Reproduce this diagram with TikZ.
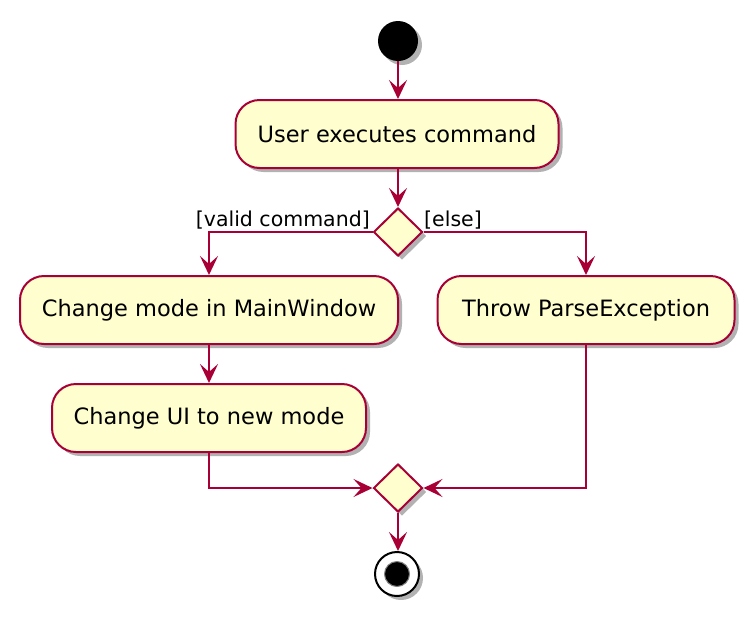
\documentclass[tikz,border=0pt]{standalone}
\usepackage{fontspec}
\setmainfont{DejaVu Sans}
\usetikzlibrary{shapes.geometric,shadows,arrows.meta}
\definecolor{pbord}{HTML}{A80036}
\definecolor{pfill}{HTML}{FEFECE}
\tikzset{
  shad/.style={drop shadow={shadow xshift=4pt,shadow yshift=-4pt,opacity=0.3,fill=black}},
  act/.style={shad,draw=pbord,fill=pfill,line width=2pt,rounded corners=24pt,inner sep=0pt,minimum height=68pt,font=\fontsize{22.5}{27}\selectfont},
  dec/.style={shad,draw=pbord,fill=pfill,line width=2pt,diamond,inner sep=0pt,minimum width=49pt,minimum height=48pt},
  arr/.style={draw=pbord,line width=2pt,-{Stealth[length=19pt,width=18pt,inset=8pt]}},
  lbl/.style={inner sep=0pt,font=\fontsize{20.5}{24}\selectfont},
}
\begin{document}
\begin{tikzpicture}[x=1pt,y=-1pt]
\useasboundingbox (0,0) rectangle (754,616);
\node[shad,circle,fill=black,minimum size=40pt,inner sep=0pt] (start) at (398,41) {};
\node[act,minimum width=323pt] (user) at (397,134) {User executes command};
\node[dec] (d1) at (398,232) {};
\node[act,minimum width=378pt] (cm) at (209,310) {Change mode in MainWindow};
\node[act,minimum width=297pt] (tp) at (586,310) {Throw ParseException};
\node[act,minimum width=314pt] (ui) at (209,418) {Change UI to new mode};
\node[dec] (d2) at (398,488) {};
\node[shad,circle,draw=black,line width=2pt,fill=white,minimum size=44pt,inner sep=0pt] (end) at (397,574) {};
\node[circle,fill=black,draw=gray,line width=1pt,minimum size=25pt,inner sep=0pt] (endin) at (end.center) {};
\node[lbl,anchor=base east] (lv) at (370,226) {[valid command]};
\node[lbl,anchor=base west] (le) at (424,226) {[else]};
\draw[arr] (start) -- (start |- user.north);
\draw[arr] (user.south -| d1) -- (d1);
\draw[arr] (d1.west) -| (cm.north);
\draw[arr] (d1.east) -| (tp.north);
\draw[arr] (cm) -- (ui);
\draw[arr] (ui.south) |- (d2.west);
\draw[arr] (tp.south) |- (d2.east);
\draw[arr] (d2) -- (d2 |- end.north);
\end{tikzpicture}
\end{document}
